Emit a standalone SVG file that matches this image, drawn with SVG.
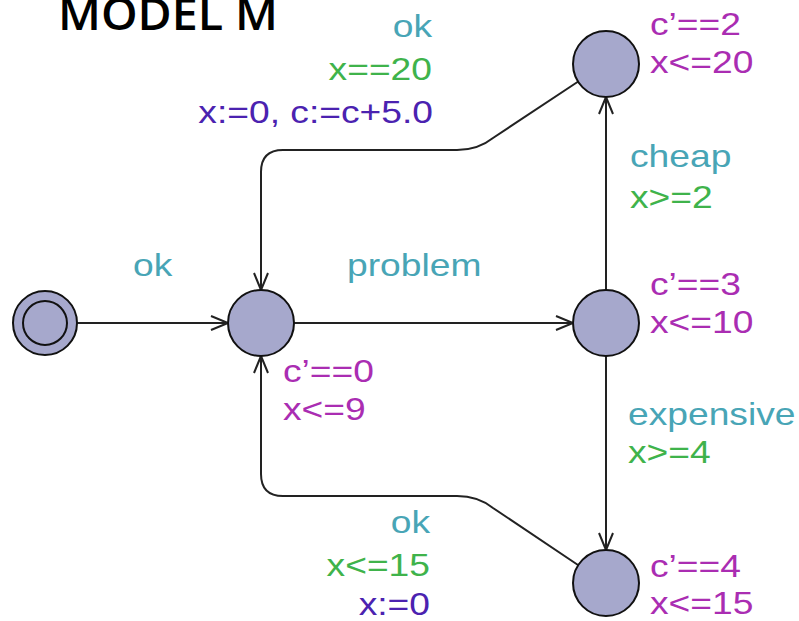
<svg xmlns="http://www.w3.org/2000/svg" width="799" height="621" viewBox="0 0 799 621">
<style>
.node{fill:#a6a8cc;stroke:#111;stroke-width:2}
.edge{fill:none;stroke:#222;stroke-width:2}
text{font-family:"Liberation Sans",Arial,sans-serif;font-size:31px}
.sync{fill:#48a5b6}
.guard{fill:#3fb34b}
.upd{fill:#4b22b0}
.inv{fill:#aa2db2}
.end{text-anchor:end}
.title{font-family:"Open Sans","Noto Sans",sans-serif;font-weight:600;font-size:45px;fill:#000}
</style>
<defs>
<marker id="arr" markerUnits="userSpaceOnUse" markerWidth="22" markerHeight="22" viewBox="0 0 22 22" refX="18" refY="11" orient="auto">
<path d="M1,4 L18,11 L1,18" fill="none" stroke="#222" stroke-width="2"/>
</marker>
</defs>
<text class="title" x="58" y="30" textLength="220" lengthAdjust="spacingAndGlyphs">MODEL M</text>
<g id="connectors">
<path class="edge" d="M77,323 L228,323" marker-end="url(#arr)"/>
<path class="edge" d="M294,323 L573,323" marker-end="url(#arr)"/>
<path class="edge" d="M606,290 L606,97" marker-end="url(#arr)"/>
<path class="edge" d="M606,356 L606,550" marker-end="url(#arr)"/>
<path class="edge" d="M579,81 L493,138 Q478,150 457,150 L283,150 Q261,150 261,172 L261,290" marker-end="url(#arr)"/>
<path class="edge" d="M578,565 L493,508 Q478,496 457,496 L283,496 Q261,496 261,474 L261,356" marker-end="url(#arr)"/>
</g>
<g id="edge-labels">
<text class="sync" transform="translate(133,276) scale(1.2,1)">ok</text>
<text class="sync" transform="translate(347,276) scale(1.2,1)">problem</text>
<text class="sync end" transform="translate(432,37) scale(1.2,1)">ok</text>
<text class="guard end" transform="translate(432,80) scale(1.2,1)">x==20</text>
<text class="upd end" transform="translate(433,123) scale(1.2,1)">x:=0, c:=c+5.0</text>
<text class="sync end" transform="translate(430,533) scale(1.2,1)">ok</text>
<text class="guard end" transform="translate(430,576) scale(1.2,1)">x&lt;=15</text>
<text class="upd end" transform="translate(430,615) scale(1.2,1)">x:=0</text>
<text class="sync" transform="translate(630,167) scale(1.2,1)">cheap</text>
<text class="guard" transform="translate(630,208) scale(1.2,1)">x&gt;=2</text>
<text class="sync" transform="translate(628,425) scale(1.2,1)">expensive</text>
<text class="guard" transform="translate(628,463) scale(1.2,1)">x&gt;=4</text>
</g>
<g id="init">
<circle class="node" cx="45" cy="323" r="32"/>
<circle class="node" cx="45" cy="323" r="22"/>
</g>
<g id="s0">
<circle class="node" cx="261" cy="323" r="33"/>
<text class="inv" transform="translate(283,382) scale(1.2,1)">c’==0</text>
<text class="inv" transform="translate(283,420) scale(1.2,1)">x&lt;=9</text>
</g>
<g id="s-problem">
<circle class="node" cx="606" cy="323" r="33"/>
<text class="inv" transform="translate(650,295) scale(1.2,1)">c’==3</text>
<text class="inv" transform="translate(650,333) scale(1.2,1)">x&lt;=10</text>
</g>
<g id="s-cheap">
<circle class="node" cx="606" cy="64" r="33"/>
<text class="inv" transform="translate(650,35) scale(1.2,1)">c’==2</text>
<text class="inv" transform="translate(650,73) scale(1.2,1)">x&lt;=20</text>
</g>
<g id="s-expensive">
<circle class="node" cx="606" cy="583" r="33"/>
<text class="inv" transform="translate(650,577) scale(1.2,1)">c’==4</text>
<text class="inv" transform="translate(650,614) scale(1.2,1)">x&lt;=15</text>
</g>
</svg>
